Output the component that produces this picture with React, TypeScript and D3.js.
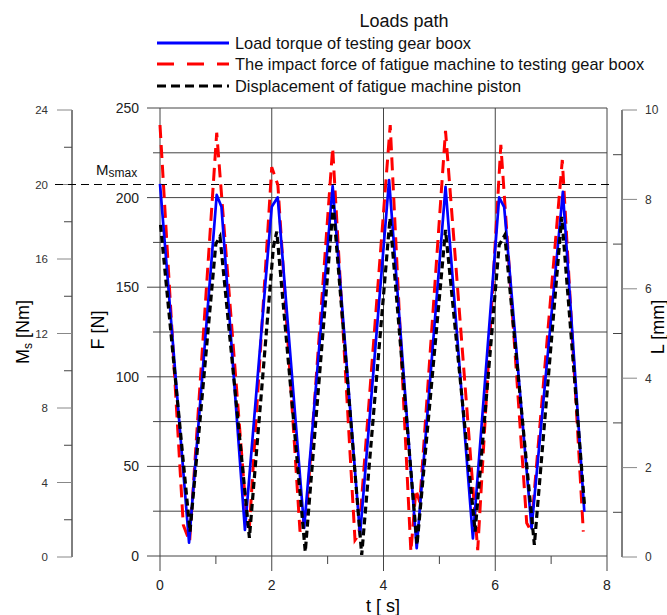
import React, { useEffect, useRef } from 'react'
import { select, line, scaleLinear } from 'd3'

// load torque of the gear box, Ms [Nm]
const torqueTime = [0, 0.52, 1.015, 1.1, 1.52, 2.0, 2.107, 2.58, 3.09, 3.58, 4.1, 4.594, 5.11, 5.6, 6.07, 6.16, 6.65, 7.21, 7.594]
const torqueValues = [20.03, 0.77, 19.44, 18.8, 1.45, 18.81, 19.31, 1.56, 19.92, 1.18, 20.24, 0.47, 19.87, 1.0, 19.31, 18.79, 1.54, 19.6, 2.43]

// impact force of the fatigue machine, F [N]
const forceTime = [0, 0.417, 0.53, 1.015, 1.557, 1.6, 2.0, 2.11, 2.506, 2.626, 3.09, 3.49, 3.56, 4.12, 4.49, 4.58, 4.65, 5.11, 5.686, 6.1, 6.563, 6.64, 7.2, 7.576]
const forceValues = [240.5, 17.3, 8, 236.2, 18.4, 16, 217, 207, 13.6, 25.7, 227.7, 8.9, 12, 240.5, 2.4, 37, 30, 237.3, 3.3, 229.4, 18.4, 14, 221, 13.6]

// displacement of the machine piston, L [mm]
const pistonTime = [0.01, 0.537, 0.999, 1.074, 1.6, 2.03, 2.09, 2.6, 3.1, 3.61, 4.116, 4.6, 5.11, 5.64, 6.07, 6.17, 6.7, 7.19, 7.6]
const pistonValues = [7.43, 0.57, 7.0, 7.17, 0.43, 6.94, 7.28, 0.12, 7.87, 0.045, 7.58, 0.27, 7.32, 0.57, 6.98, 7.2, 0.27, 7.61, 1.12]

const timeTicks = [0, 2, 4, 6, 8]
const timeMinor = [1, 3, 5, 7]
const forceTicks = [0, 50, 100, 150, 200, 250]
const forceMinor = [25, 75, 125, 175, 225]
const torqueTicks = [0, 4, 8, 12, 16, 20, 24]
const torqueMinor = [2, 6, 10, 14, 18, 22]
const pistonTicks = [0, 2, 4, 6, 8, 10]
const pistonMinor = [1, 3, 5, 7, 9]
const msMax = 20

const legendLabels = [
  'Load torque of testing gear boox',
  'The impact force of fatigue machine to testing gear boox',
  'Displacement of fatigue machine piston',
]

const FONT = "'Liberation Sans', Arial, sans-serif"

const App = () => {
  const svgRef = useRef<SVGSVGElement>(null)

  useEffect(() => {
    const svg = select(svgRef.current)
    svg.selectAll('*').remove()

    const xScale = scaleLinear().domain([0, 8]).range([160, 607])
    const yForce = scaleLinear().domain([0, 250]).range([556, 108])
    const yTorque = scaleLinear().domain([0, 24]).range([557, 110])
    const yPiston = scaleLinear().domain([0, 10]).range([557, 110])

    // grid of the main plot
    const grid = svg.append('g').attr('stroke', '#444').attr('stroke-width', 1)
    forceTicks.concat(forceMinor).forEach(v => {
      grid.append('line')
        .attr('x1', forceTicks.includes(v) ? 147 : 153)
        .attr('x2', xScale(8))
        .attr('y1', yForce(v)).attr('y2', yForce(v))
    })
    timeTicks.forEach(v => {
      grid.append('line')
        .attr('x1', xScale(v)).attr('x2', xScale(v))
        .attr('y1', yForce(250)).attr('y2', 571)
    })
    timeMinor.forEach(v => {
      grid.append('line')
        .attr('x1', xScale(v)).attr('x2', xScale(v))
        .attr('y1', yForce(0)).attr('y2', 564)
    })

    // F tick labels
    svg.append('g')
      .selectAll('text')
      .data(forceTicks)
      .join('text')
      .attr('x', 139)
      .attr('y', d => yForce(d))
      .attr('dy', '0.36em')
      .attr('text-anchor', 'end')
      .attr('font-size', 14)
      .attr('fill', '#222')
      .text(d => d)

    // t tick labels
    svg.append('g')
      .selectAll('text')
      .data(timeTicks)
      .join('text')
      .attr('x', d => xScale(d))
      .attr('y', 590)
      .attr('text-anchor', 'middle')
      .attr('font-size', 14)
      .attr('fill', '#222')
      .text(d => d)

    // left Ms axis
    const msAxis = svg.append('g')
    msAxis.append('line')
      .attr('x1', 72).attr('x2', 72)
      .attr('y1', yTorque(24)).attr('y2', yTorque(0))
      .attr('stroke', '#000')
    msAxis.selectAll('.major')
      .data(torqueTicks)
      .join('line')
      .attr('class', 'major')
      .attr('x1', 57).attr('x2', 72)
      .attr('y1', d => yTorque(d)).attr('y2', d => yTorque(d))
      .attr('stroke', '#888')
    msAxis.selectAll('.minor')
      .data(torqueMinor)
      .join('line')
      .attr('class', 'minor')
      .attr('x1', 64).attr('x2', 72)
      .attr('y1', d => yTorque(d)).attr('y2', d => yTorque(d))
      .attr('stroke', '#444')
    msAxis.selectAll('text')
      .data(torqueTicks)
      .join('text')
      .attr('x', 48)
      .attr('y', d => yTorque(d))
      .attr('dy', '0.36em')
      .attr('text-anchor', 'end')
      .attr('font-size', 11.5)
      .attr('fill', '#333')
      .text(d => d)

    // right L axis
    const lAxis = svg.append('g')
    lAxis.append('line')
      .attr('x1', 622).attr('x2', 622)
      .attr('y1', yPiston(10)).attr('y2', yPiston(0))
      .attr('stroke', '#000')
    lAxis.selectAll('.major')
      .data(pistonTicks)
      .join('line')
      .attr('class', 'major')
      .attr('x1', 622).attr('x2', 637)
      .attr('y1', d => yPiston(d)).attr('y2', d => yPiston(d))
      .attr('stroke', '#888')
    lAxis.selectAll('.minor')
      .data(pistonMinor)
      .join('line')
      .attr('class', 'minor')
      .attr('x1', 613).attr('x2', 622)
      .attr('y1', d => yPiston(d)).attr('y2', d => yPiston(d))
      .attr('stroke', '#444')
    lAxis.selectAll('text')
      .data(pistonTicks)
      .join('text')
      .attr('x', 645)
      .attr('y', d => yPiston(d))
      .attr('dy', '0.36em')
      .attr('font-size', 12)
      .attr('fill', '#333')
      .text(d => d)

    // Msmax level
    svg.append('line')
      .attr('x1', 55).attr('x2', 610)
      .attr('y1', yTorque(msMax)).attr('y2', yTorque(msMax))
      .attr('stroke', '#000')
      .attr('stroke-dasharray', '8,5')
    const mLabel = svg.append('text')
      .attr('x', 96).attr('y', 175)
      .attr('font-size', 15)
      .attr('fill', '#111')
    mLabel.append('tspan').text('M')
    mLabel.append('tspan').attr('font-size', 12).attr('dy', 2).text('smax')

    // series
    const pairs = (ts: number[], vs: number[]) => ts.map((t, i) => [t, vs[i]] as [number, number])
    const forceLine = line<[number, number]>().x(d => xScale(d[0])).y(d => yForce(d[1]))
    const torqueLine = line<[number, number]>().x(d => xScale(d[0])).y(d => yTorque(d[1]))
    const pistonLine = line<[number, number]>().x(d => xScale(d[0])).y(d => yPiston(d[1]))

    svg.append('path')
      .attr('d', forceLine(pairs(forceTime, forceValues)))
      .attr('fill', 'none')
      .attr('stroke', '#ff0000')
      .attr('stroke-width', 3)
      .attr('stroke-dasharray', '13,7')
    svg.append('path')
      .attr('d', torqueLine(pairs(torqueTime, torqueValues)))
      .attr('fill', 'none')
      .attr('stroke', '#0000ff')
      .attr('stroke-width', 2.7)
      .attr('stroke-linejoin', 'round')
    svg.append('path')
      .attr('d', pistonLine(pairs(pistonTime, pistonValues)))
      .attr('fill', 'none')
      .attr('stroke', '#000')
      .attr('stroke-width', 3.2)
      .attr('stroke-dasharray', '7,4')

    // legend
    svg.append('text')
      .attr('x', 404).attr('y', 27)
      .attr('text-anchor', 'middle')
      .attr('font-size', 18)
      .attr('fill', '#111')
      .text('Loads path')
    const rows = [43, 64, 86]
    const legendStyles = [
      { color: '#0000ff', dash: null, width: 3 },
      { color: '#ff0000', dash: '17,13', width: 3 },
      { color: '#000', dash: '9,5', width: 3 },
    ]
    legendLabels.forEach((label, i) => {
      const s = legendStyles[i]
      svg.append('line')
        .attr('x1', 157).attr('x2', 229)
        .attr('y1', rows[i]).attr('y2', rows[i])
        .attr('stroke', s.color)
        .attr('stroke-width', s.width)
        .attr('stroke-dasharray', s.dash)
      svg.append('text')
        .attr('x', 235).attr('y', rows[i])
        .attr('dy', '0.36em')
        .attr('font-size', 16.4)
        .attr('fill', '#111')
        .text(label)
    })

    // axis titles
    svg.append('text')
      .attr('x', 383).attr('y', 612)
      .attr('text-anchor', 'middle')
      .attr('font-size', 18)
      .text('t [ s]')
    svg.append('text')
      .attr('transform', 'translate(104,330) rotate(-90)')
      .attr('text-anchor', 'middle')
      .attr('font-size', 18)
      .text('F [N]')
    svg.append('text')
      .attr('transform', 'translate(664,327) rotate(-90)')
      .attr('text-anchor', 'middle')
      .attr('font-size', 18)
      .text('L [mm]')
    const msTitle = svg.append('text')
      .attr('transform', 'translate(29,332) rotate(-90)')
      .attr('text-anchor', 'middle')
      .attr('font-size', 18)
    msTitle.append('tspan').text('M')
    msTitle.append('tspan').attr('font-size', 12).attr('dy', 3).text('s')
    msTitle.append('tspan').attr('dy', -3).text(' [Nm]')
  }, [])

  return (
    <svg
      ref={svgRef}
      width={667}
      height={615}
      style={{ position: 'absolute', left: 0, top: 0, background: '#fff', fontFamily: FONT }}
    />
  )
}

export default App
